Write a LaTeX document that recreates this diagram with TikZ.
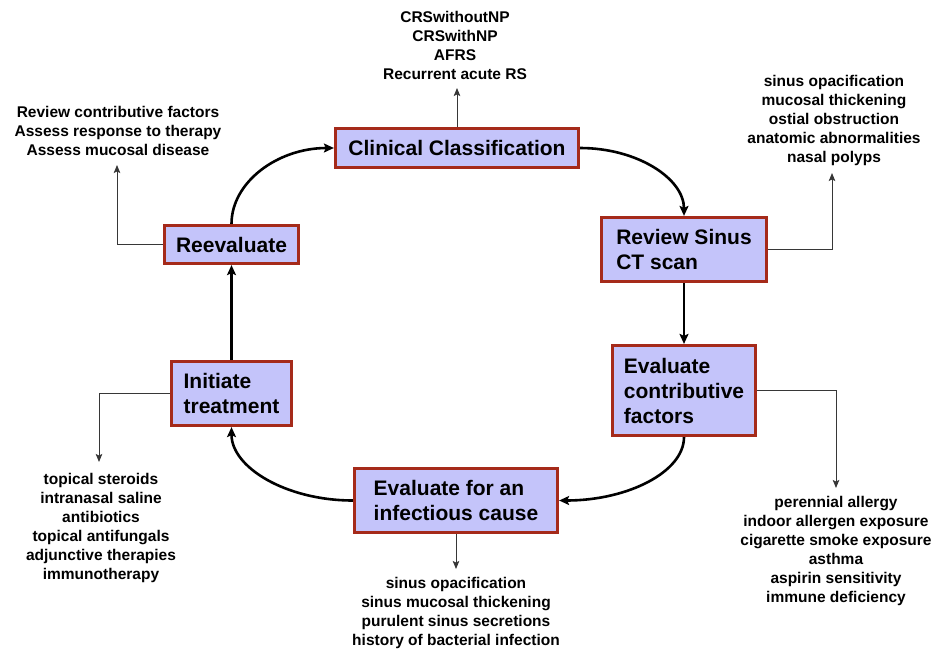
\documentclass[tikz,border=0pt]{standalone}
\usepackage{fontspec}
\setmainfont{Liberation Sans}
\usetikzlibrary{arrows.meta,calc}
\definecolor{boxfill}{RGB}{196,196,250}
\definecolor{boxborder}{RGB}{165,42,26}
\definecolor{linkgray}{RGB}{55,55,55}
\begin{document}
\begin{tikzpicture}[x=1pt,y=-1pt,
  stagebox/.style={draw=boxborder, fill=boxfill, line width=3.2pt,
    font=\fontsize{21}{25}\selectfont\bfseries, align=left, inner sep=0pt},
  listtext/.style={font=\fontsize{15.5}{19}\selectfont\bfseries, align=center,
    inner sep=0pt, anchor=north},
  cyc/.style={line width=2.6pt, -{Stealth[length=10pt,width=9pt,inset=2pt]}},
  sidelink/.style={draw=linkgray, line width=1pt, -{Stealth[length=8pt,width=6.5pt,inset=1.5pt]}}]
\useasboundingbox (0,0) rectangle (934,651);

% stage boxes
\node[stagebox, minimum width=243pt, minimum height=39pt] (cc) at (457,148) {Clinical Classification};
\node[stagebox, minimum width=165pt, minimum height=64pt] (rs) at (684,249.5) {Review Sinus\\CT scan};
\node[stagebox, minimum width=143pt, minimum height=90pt] (cf) at (684,390.5) {Evaluate\\contributive\\factors};
\node[stagebox, minimum width=203pt, minimum height=64pt] (ic) at (456,500.5) {Evaluate for an\\infectious cause};
\node[stagebox, minimum width=120pt, minimum height=64pt] (it) at (231.5,393.5) {Initiate\\treatment};
\node[stagebox, minimum width=134pt, minimum height=38pt] (re) at (231.5,244.5) {Reevaluate};

% cycle arrows
\draw[cyc] (cc.east) .. controls ($(cc.east)!0.55!(cc.east -| rs.north)$) and ($(rs.north)!0.55!(cc.east -| rs.north)$) .. (rs.north);
\draw[cyc] (rs.south) -- (cf.north);
\draw[cyc] (cf.south) .. controls ($(cf.south)!0.55!(cf.south |- ic.east)$) and ($(ic.east)!0.55!(cf.south |- ic.east)$) .. (ic.east);
\draw[cyc] (ic.west) .. controls ($(ic.west)!0.55!(ic.west -| it.south)$) and ($(it.south)!0.55!(ic.west -| it.south)$) .. (it.south);
\draw[cyc] (it.north) -- (re.south);
\draw[cyc] (re.north) .. controls ($(re.north)!0.55!(re.north |- cc.west)$) and ($(cc.west)!0.55!(re.north |- cc.west)$) .. (cc.west);

% lists
\node[listtext] (l1) at (455,11.5) {CRSwithoutNP\\CRSwithNP\\AFRS\\Recurrent acute RS};
\node[listtext] (l2) at (834,75.5) {sinus opacification\\mucosal thickening\\ostial obstruction\\anatomic abnormalities\\nasal polyps};
\node[listtext] (l3) at (118,106.5) {Review contributive factors\\Assess response to therapy\\Assess mucosal disease};
\node[listtext] (l4) at (101,473.5) {topical steroids\\intranasal saline\\antibiotics\\topical antifungals\\adjunctive therapies\\immunotherapy};
\node[listtext] (l5) at (456,577.5) {sinus opacification\\sinus mucosal thickening\\purulent sinus secretions\\history of bacterial infection};
\node[listtext] (l6) at (836,496.5) {perennial allergy\\indoor allergen exposure\\cigarette smoke exposure\\asthma\\aspirin sensitivity\\immune deficiency};

% side links
\coordinate (t1) at (457,88);
\coordinate (t2) at (832,173);
\coordinate (t3) at (117,165);
\coordinate (t4) at (99,462);
\coordinate (t5) at (456,569);
\coordinate (t6) at (836,488);
\draw[sidelink] (cc.north) -- (t1);
\draw[sidelink] (rs.east) -| (t2);
\draw[sidelink] (re.west) -| (t3);
\draw[sidelink] (it.west) -| (t4);
\draw[sidelink] (ic.south) -- (t5);
\draw[sidelink] (cf.east) -| (t6);
\end{tikzpicture}
\end{document}
